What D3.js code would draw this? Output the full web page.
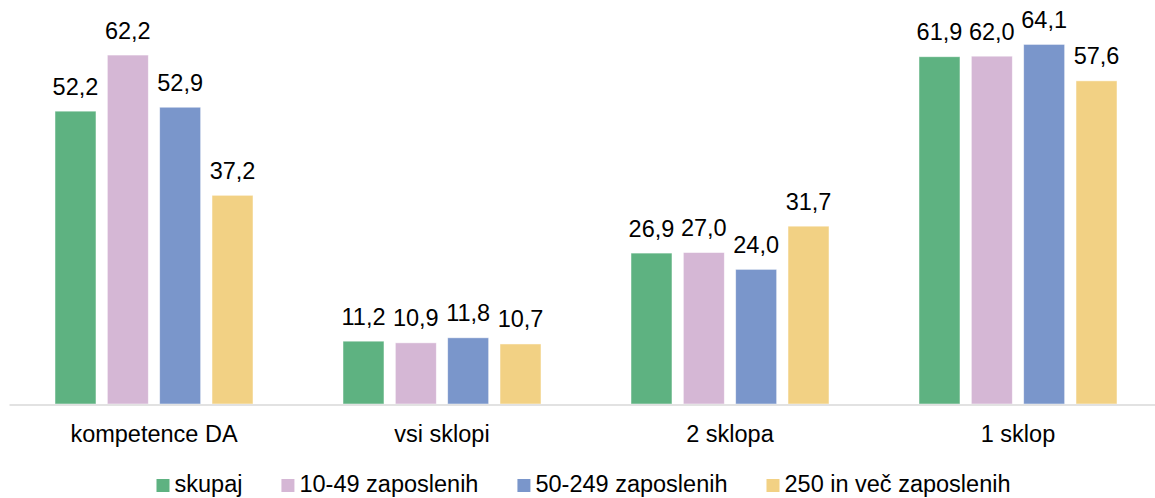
<!DOCTYPE html>
<html>
<head>
<meta charset="utf-8">
<script src="https://cdn.jsdelivr.net/npm/d3@7"></script>
<style>
  html, body { margin: 0; padding: 0; background: #fff; }
  text { font-family: Arial, "Liberation Sans", sans-serif; fill: #000; }
</style>
</head>
<body>
<div id="chart"></div>
<script>
var categories = ['kompetence DA', 'vsi sklopi', '2 sklopa', '1 sklop'];
var seriesNames = ['skupaj', '10-49 zaposlenih', '50-249 zaposlenih', '250 in več zaposlenih'];
var skupaj = [52.2, 11.2, 26.9, 61.9];
var mala = [62.2, 10.9, 27.0, 62.0];
var srednja = [52.9, 11.8, 24.0, 64.1];
var velika = [37.2, 10.7, 31.7, 57.6];
var colors = ['#5eb281', '#d5b7d5', '#7a96cb', '#f2d184'];

var width = 1155,
    height = 498,
    baseY = 404,
    fontSize = 23.5;

var seriesValues = [skupaj, mala, srednja, velika];

var svg = d3.select('#chart')
  .append('svg')
  .attr('width', width)
  .attr('height', height);

var xScale = d3.scaleBand()
  .domain(categories)
  .range([10, 1162]);

var xInner = d3.scaleBand()
  .domain(seriesNames)
  .range([45, 243])
  .paddingInner(0.217);

var yScale = d3.scaleLinear()
  .domain([0, 70])
  .range([baseY, baseY - 70 * 5.61]);

// one group per category
var groups = svg.selectAll('g.cat')
  .data(categories)
  .enter()
  .append('g')
  .attr('class', 'cat')
  .attr('transform', function(d) { return 'translate(' + xScale(d) + ',0)'; });

groups.selectAll('rect')
  .data(function(d, i) {
    return seriesNames.map(function(s, j) {
      return { series: s, value: seriesValues[j][i], color: colors[j] };
    });
  })
  .enter()
  .append('rect')
  .attr('x', function(d) { return xInner(d.series); })
  .attr('y', function(d) { return yScale(d.value); })
  .attr('width', xInner.bandwidth())
  .attr('height', function(d) { return yScale(0) - yScale(d.value); })
  .style('fill', function(d) { return d.color; })
  .style('stroke', '#ffffff')
  .style('stroke-opacity', 0.6)
  .style('stroke-width', 0.8);

groups.selectAll('text.val')
  .data(function(d, i) {
    return seriesNames.map(function(s, j) {
      return { series: s, value: seriesValues[j][i] };
    });
  })
  .enter()
  .append('text')
  .attr('class', 'val')
  .attr('x', function(d) { return xInner(d.series) + xInner.bandwidth() / 2; })
  .attr('y', function(d) { return yScale(d.value) - 16.5; })
  .attr('text-anchor', 'middle')
  .attr('font-size', fontSize + 'px')
  .text(function(d) { return d.value.toFixed(1).replace('.', ','); });

// x axis line
var xAxis = d3.axisBottom(xScale).tickSize(0).tickPadding(0);
var axisG = svg.append('g')
  .attr('transform', 'translate(0,' + (baseY + 1) + ')')
  .call(xAxis);
axisG.select('.domain')
  .attr('d', 'M9.5,0H1155')
  .attr('stroke', '#d9d9d9')
  .attr('stroke-width', 1.6);
axisG.selectAll('.tick text')
  .attr('y', 37)
  .attr('dy', null)
  .attr('font-size', fontSize + 'px')
  .attr('font-family', 'Arial, "Liberation Sans", sans-serif')
  .style('fill', '#000');

// legend
var legend = svg.append('g');
var items = legend.selectAll('g.item')
  .data(seriesNames)
  .enter()
  .append('g')
  .attr('class', 'item');

items.append('rect')
  .attr('x', 0)
  .attr('y', 479)
  .attr('width', 13)
  .attr('height', 13)
  .style('fill', function(d, i) { return colors[i]; });

items.append('text')
  .attr('x', 18)
  .attr('y', 492)
  .attr('font-size', fontSize + 'px')
  .text(function(d) { return d; });

var offset = 0;
var lastEnd = 0;
items.each(function(d, i) {
  var len = this.querySelector('text').getComputedTextLength();
  d3.select(this).attr('transform', 'translate(' + offset + ',0)');
  lastEnd = offset + 18 + len;
  offset += 18 + len + 39;
});
var legendStart = 583.5 - lastEnd / 2;
legend.attr('transform', 'translate(' + legendStart + ',0)');
</script>
</body>
</html>
